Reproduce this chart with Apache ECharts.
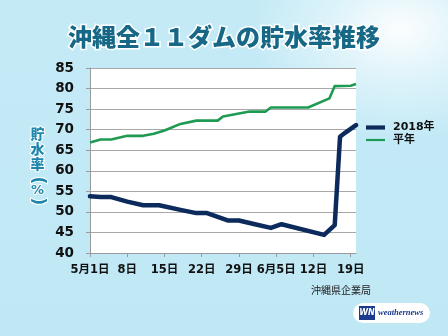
<!DOCTYPE html>
<html>
<head>
<meta charset="utf-8">
<script src="https://cdn.jsdelivr.net/npm/echarts@6/dist/echarts.min.js"></script>
<style>
  html, body { margin: 0; padding: 0; }
  body {
    width: 448px; height: 336px; overflow: hidden;
    background:
      radial-gradient(ellipse 150px 110px at 400px 30px, rgba(255,255,255,0.95) 0%, rgba(255,255,255,0.45) 45%, rgba(255,255,255,0) 100%),
      linear-gradient(180deg, #c4eaf6 0%, #c2e9f6 60%, #bfe7f4 100%);
  }
  #chart { width: 448px; height: 336px; }
</style>
</head>
<body>
<div id="chart"></div>
<script>
// Days counted from 5月1日 (day 0) up to 6月20日 (day 50)
const tickDays   = [0, 7, 14, 21, 28, 35, 42, 49];
const tickLabels = ['5月1日', '8日', '15日', '22日', '29日', '6月5日', '12日', '19日'];

// 2018年 storage rate (%)
const days2018 = [0, 2, 4, 7, 10, 13, 17, 20, 22, 26, 28, 31, 34, 36, 44, 46, 47, 48, 50];
const rate2018 = [53.8, 53.6, 53.6, 52.5, 51.6, 51.6, 50.5, 49.7, 49.7, 47.9, 47.9, 47.0, 46.1, 47.0, 44.4, 46.8, 68.3, 69.3, 71.1];

// 平年 (normal-year) storage rate (%)
const daysNormal = [0, 2, 4, 7, 10, 12, 14, 17, 20, 24, 25, 27, 30, 33, 34, 41, 45, 46, 49, 50];
const rateNormal = [66.9, 67.6, 67.6, 68.5, 68.5, 69.0, 69.8, 71.4, 72.2, 72.2, 73.2, 73.7, 74.4, 74.4, 75.4, 75.4, 77.6, 80.6, 80.7, 81.1];

const yMin = 40, yMax = 85, yStep = 5;

const pairs = (xs, ys) => xs.map((x, i) => [x, ys[i]]);

const latinBold = 'DejaVu Sans, "Noto Sans CJK JP", sans-serif';
const cjk = '"Noto Sans CJK JP", "DejaVu Sans", sans-serif';
const nameColor = '#1f87ab';
const navy = '#0c2a5c';
const green = '#1f9a52';

const chart = echarts.init(document.getElementById('chart'), null, { renderer: 'canvas' });

chart.setOption({
  backgroundColor: 'transparent',
  animation: false,
  title: {
    text: '沖縄全１１ダムの貯水率推移',
    left: 'center',
    top: 20,
    textStyle: {
      fontFamily: cjk,
      fontSize: 24,
      fontWeight: 900,
      color: '#166886',
      textBorderColor: '#ffffff',
      textBorderWidth: 3
    }
  },
  grid: {
    left: 90, right: 92, top: 68, bottom: 83,
    show: true, backgroundColor: '#ffffff', borderWidth: 0
  },
  legend: {
    orient: 'vertical',
    left: 366, top: 121.5, padding: 0,
    itemWidth: 19, itemHeight: 8, itemGap: 0.5,
    symbolKeepAspect: true,
    data: [
      { name: '2018年', icon: 'path://M0,0H19V4.2H0Z' },
      { name: '平年', icon: 'path://M0,0H19V2.2H0Z' }
    ],
    textStyle: {
      fontFamily: latinBold, fontSize: 11, fontWeight: 'bold', color: '#111',
      lineHeight: 12, padding: [0, 0, 0, 3]
    }
  },
  xAxis: {
    type: 'value',
    min: 0, max: 50, interval: 7,
    axisLine: { show: true, lineStyle: { color: '#9a9a9a', width: 1 } },
    axisTick: { show: true, length: 4, customValues: tickDays, lineStyle: { color: '#9a9a9a' } },
    splitLine: { show: false },
    axisLabel: {
      customValues: tickDays,
      margin: 11,
      fontFamily: latinBold, fontSize: 11.5, fontWeight: 'bold', color: '#111',
      formatter: v => {
        const i = tickDays.indexOf(Math.round(v));
        return i >= 0 ? tickLabels[i] : '';
      }
    }
  },
  yAxis: {
    type: 'value',
    min: yMin, max: yMax, interval: yStep,
    axisLine: { show: true, lineStyle: { color: '#9a9a9a', width: 1 } },
    axisTick: { show: true, length: 4, lineStyle: { color: '#9a9a9a' } },
    splitLine: { show: true, lineStyle: { color: '#a8a8a8', width: 1 } },
    axisLabel: {
      margin: 16,
      fontFamily: latinBold, fontSize: 13.5, fontWeight: 'bold', color: '#111'
    }
  },
  series: [
    {
      name: '2018年',
      type: 'line',
      data: pairs(days2018, rate2018),
      symbol: 'none',
      z: 3,
      lineStyle: { color: navy, width: 4.5, join: 'round', cap: 'round' },
      itemStyle: { color: navy }
    },
    {
      name: '平年',
      type: 'line',
      data: pairs(daysNormal, rateNormal),
      symbol: 'none',
      z: 2,
      lineStyle: { color: green, width: 2.6, join: 'round' },
      itemStyle: { color: green }
    }
  ],
  graphic: [
    {
      type: 'text',
      x: 37.5, y: 126,
      style: {
        text: '貯\n水\n率',
        fontFamily: cjk, fontSize: 14, fontWeight: 900, lineHeight: 15,
        fill: nameColor, stroke: '#ffffff', lineWidth: 2,
        align: 'center'
      }
    },
    {
      // "(%)" in vertical writing: parentheses turned sideways around an upright %
      type: 'group',
      x: 37.5, y: 191,
      children: [
        {
          type: 'text', x: 0, y: -10.5, rotation: -Math.PI / 2,
          style: { text: '(', fontFamily: latinBold, fontSize: 17, fontWeight: 'bold', fill: nameColor, stroke: '#ffffff', lineWidth: 2, align: 'center', verticalAlign: 'middle' }
        },
        {
          type: 'text', x: 0, y: 0,
          style: { text: '%', fontFamily: latinBold, fontSize: 13, fontWeight: 'bold', fill: nameColor, stroke: '#ffffff', lineWidth: 2, align: 'center', verticalAlign: 'middle' }
        },
        {
          type: 'text', x: 0, y: 10.5, rotation: -Math.PI / 2,
          style: { text: ')', fontFamily: latinBold, fontSize: 17, fontWeight: 'bold', fill: nameColor, stroke: '#ffffff', lineWidth: 2, align: 'center', verticalAlign: 'middle' }
        }
      ]
    },
    {
      type: 'text',
      left: 311, top: 285,
      style: { text: '沖縄県企業局', fontFamily: cjk, fontSize: 10, fill: '#222' }
    },
    {
      type: 'group',
      left: 353, top: 303,
      children: [
        { type: 'rect', shape: { x: 0, y: 0, width: 77, height: 20, r: 10 }, style: { fill: '#ffffff' } },
        { type: 'rect', shape: { x: 6, y: 3, width: 16, height: 14 }, style: { fill: '#1c3a8e' } },
        {
          type: 'text', x: 14, y: 10,
          style: { text: 'WN', fontFamily: latinBold, fontSize: 8, fontWeight: 'bold', fontStyle: 'italic', fill: '#fff', align: 'center', verticalAlign: 'middle' }
        },
        {
          type: 'text', x: 25, y: 10,
          style: { text: 'weathernews', fontFamily: '"Liberation Serif", serif', fontSize: 8.5, fontWeight: 'bold', fontStyle: 'italic', fill: '#1c3a8e', verticalAlign: 'middle' }
        }
      ]
    }
  ]
});
</script>
</body>
</html>
